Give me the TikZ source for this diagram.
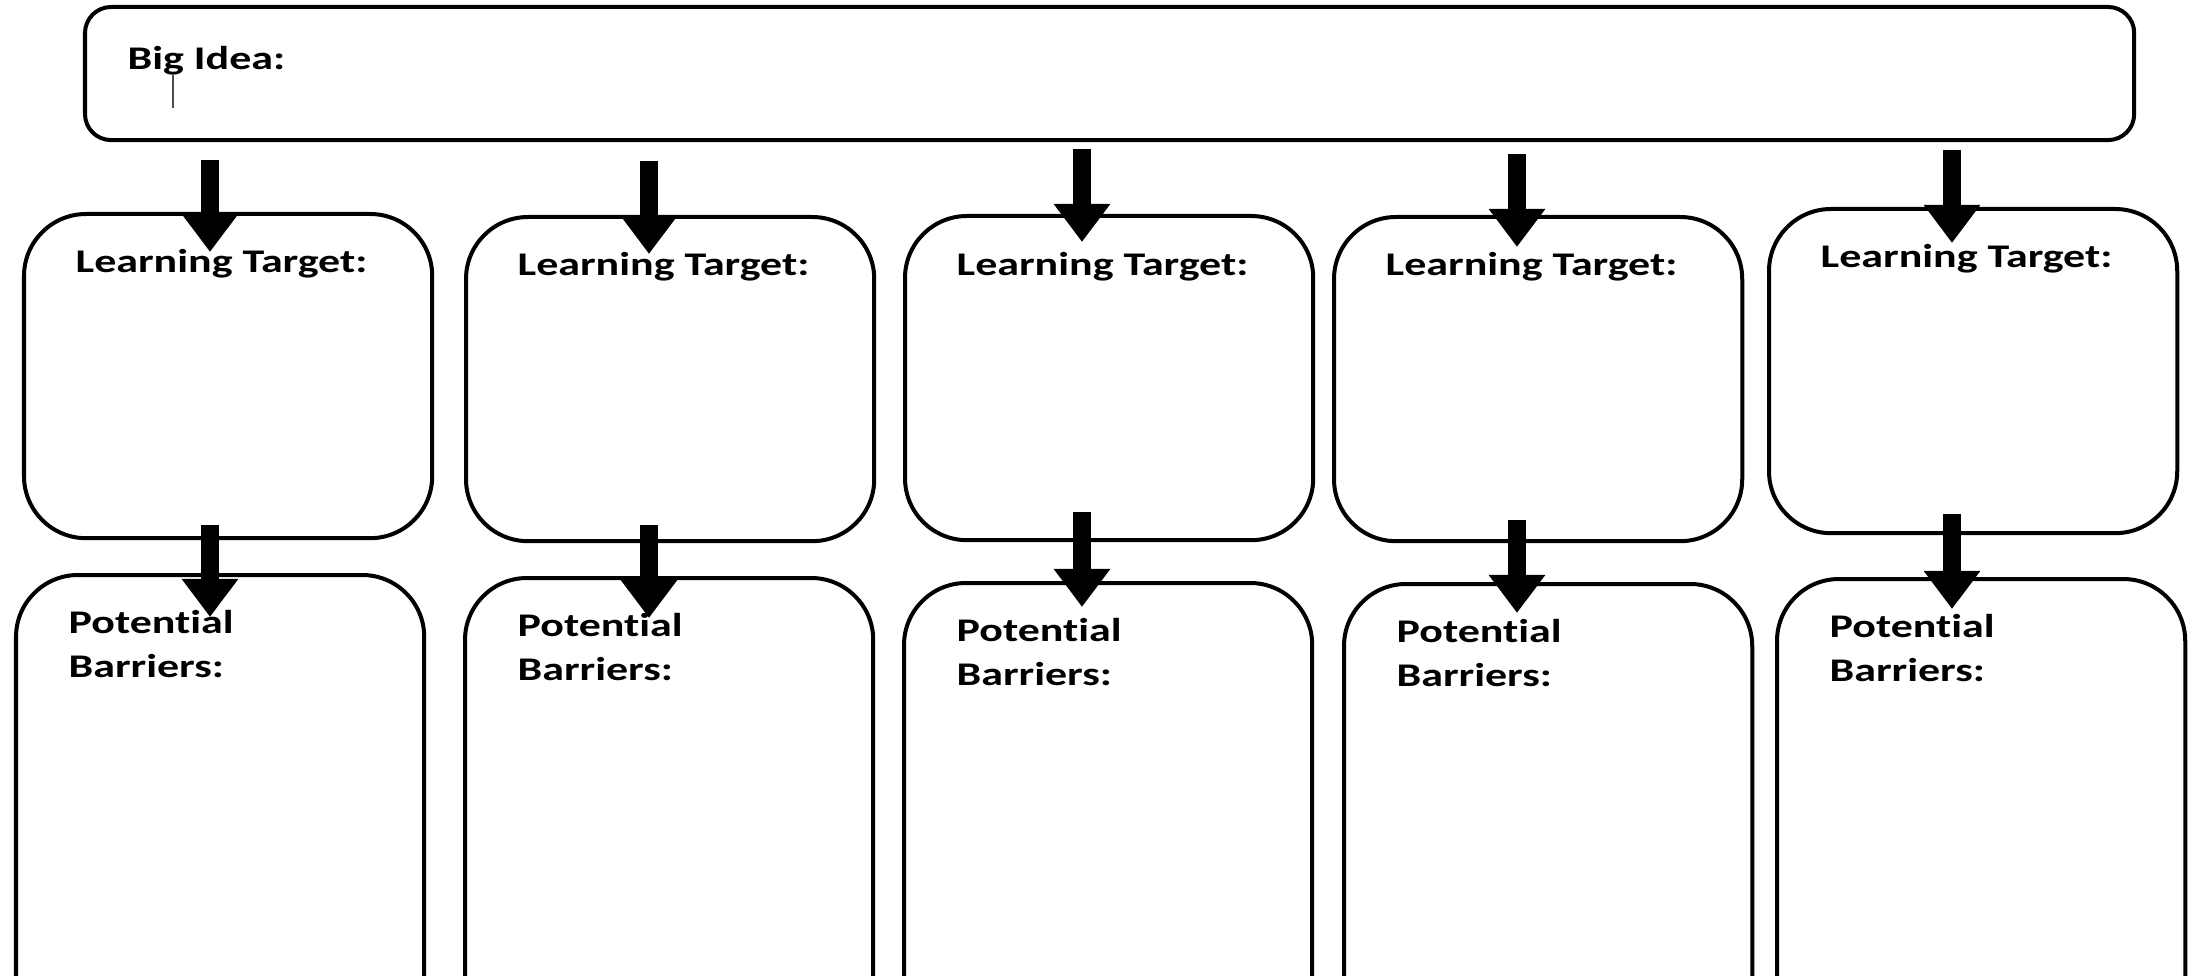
\documentclass[tikz,border=0pt]{standalone}
\usepackage{fontspec}
\setmainfont{Carlito}[FakeStretch=1.33,Ligatures=NoCommon]
\usetikzlibrary{calc,arrows.meta}

\begin{document}
\begin{tikzpicture}[x=0.01cm,y=-0.01cm,
    bigbox/.style={draw,line width=0.04cm,rounded corners=0.26cm,inner sep=0pt,outer sep=0pt,
      minimum width=20.48cm,minimum height=1.33cm,anchor=north west},
    box/.style={draw,line width=0.04cm,rounded corners=0.62cm,inner sep=0pt,outer sep=0pt,
      minimum width=4.08cm,anchor=north west},
    lbl/.style={inner sep=0pt,font=\fontsize{9.4}{12.5}\selectfont\bfseries,anchor=base west,align=left},
    fatarrow/.style={line width=0.18cm,-{Triangle[width=0.54cm,length=0.38cm]}}]
        % Fix the page size
        \useasboundingbox (0,0) rectangle (2199,976);
        \clip (0,0) rectangle (2199,976);

        % Big idea box
        \node[bigbox] (big) at (85,7) {};
        \node[lbl] (bigt) at ($(big.north west)+(42,63)$) {Big Idea:};
        \draw[line width=0.4pt,black!70] (173,75) -- (173,108);

        % Learning target boxes
        \node[box,minimum height=3.24cm] (lt1) at (24,214) {};
        \node[box,minimum height=3.24cm] (lt2) at (466,217) {};
        \node[box,minimum height=3.24cm] (lt3) at (905,216) {};
        \node[box,minimum height=3.24cm] (lt4) at (1334,217) {};
        \node[box,minimum height=3.24cm] (lt5) at (1769,209) {};

        % Potential barrier boxes (cut off at the bottom)
        \node[box,minimum height=6cm] (pb1) at (16,575) {};
        \node[box,minimum height=6cm] (pb2) at (465,578) {};
        \node[box,minimum height=6cm] (pb3) at (904,583) {};
        \node[box,minimum height=6cm] (pb4) at (1344,584) {};
        \node[box,minimum height=6cm] (pb5) at (1777,579) {};

        % Labels
        \foreach \i in {1,...,5}{
            \node[lbl] (ltt\i) at ($(lt\i.north west)+(51,59)$) {Learning Target:};
            \node[lbl] (pbt\i) at ($(pb\i.north west)+(52,102)$) {Potential\\Barriers:};
        }

        % Arrows
        \foreach \i/\ax/\sa/\ea/\sb/\eb in {1/210/20/38/13/42, 2/649/21/37/16/40,
                3/1082/9/26/28/24, 4/1517/14/30/21/29, 5/1952/10/34/19/30}{
            \draw[fatarrow] ($(\ax,0 |- big.south)+(0,\sa)$) -- ($(\ax,0 |- lt\i.north)+(0,\ea)$);
            \draw[fatarrow] ($(\ax,0 |- lt\i.south)+(0,-\sb)$) -- ($(\ax,0 |- pb\i.north)+(0,\eb)$);
        }
    \end{tikzpicture}
\end{document}
